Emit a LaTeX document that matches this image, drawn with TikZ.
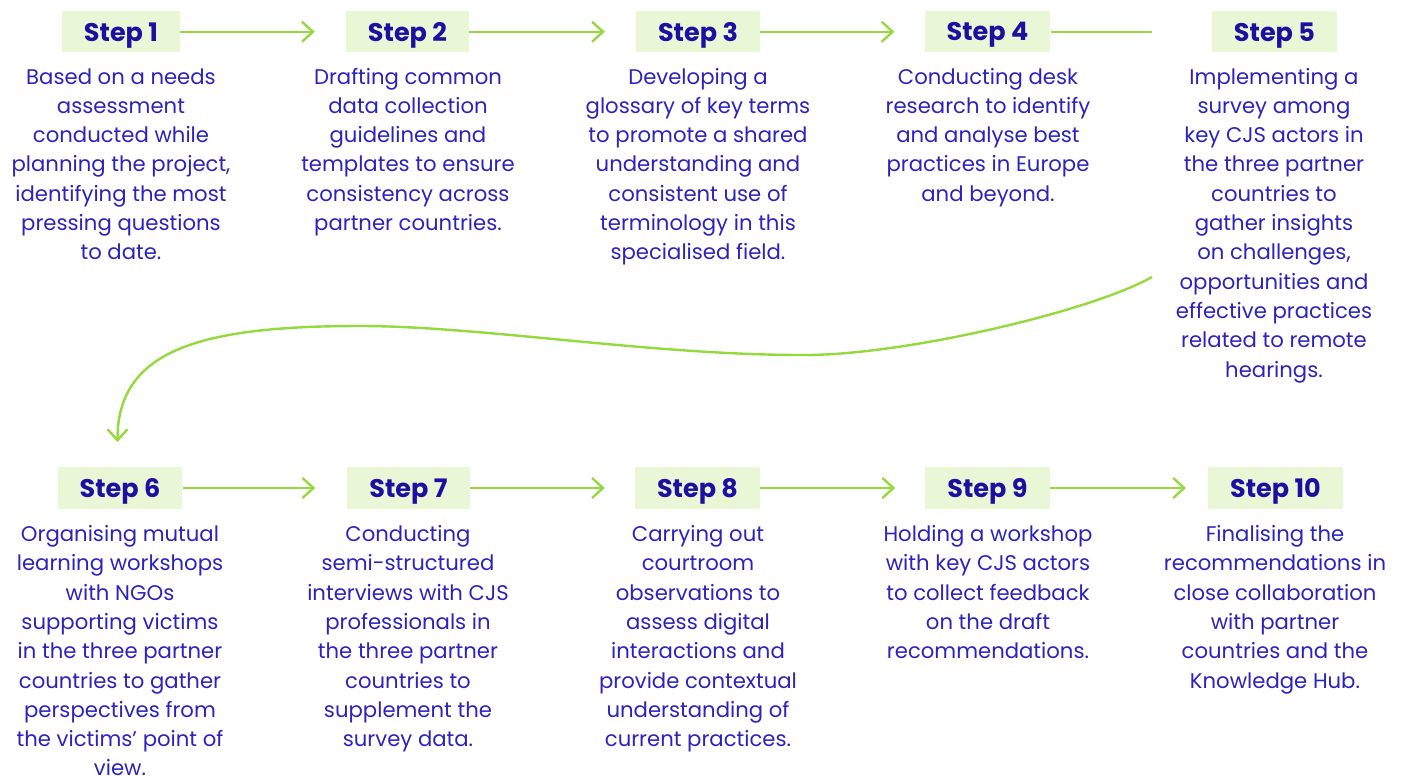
\documentclass[tikz,border=0pt]{standalone}
\usepackage{fontspec}
\setmainfont{Poppins}
\usetikzlibrary{arrows.meta}
\definecolor{txtblue}{HTML}{2E22BE}
\definecolor{lblblue}{HTML}{1E0FA0}
\definecolor{boxgreen}{HTML}{E9F7D6}
\definecolor{linegreen}{HTML}{94D93D}
\tikzset{
  stepbox/.style={fill=boxgreen, draw=none, minimum height=41.5pt, inner xsep=22pt, inner ysep=0pt,
    text depth=0pt, font=\fontsize{25.5pt}{28pt}\selectfont\bfseries, text=lblblue},
  desc/.style={align=center, anchor=base, inner sep=0pt, text=txtblue,
    font=\fontsize{21.2pt}{29.3pt}\selectfont},
  flow/.style={draw=linegreen, line width=2.4pt, -{Straight Barb[length=11pt,width=20pt,line width=2.4pt]}},
  plainflow/.style={draw=linegreen, line width=2.4pt},
}
\begin{document}
\begin{tikzpicture}[x=1pt,y=-1pt]
\useasboundingbox (0,0) rectangle (1406,776);
% row 1 boxes
\node[stepbox] (s1) at (121,31.75) {Step 1};
\node[stepbox] (s2) at (407.5,31.75) {Step 2};
\node[stepbox] (s3) at (698,31.75) {Step 3};
\node[stepbox] (s4) at (987.5,31.75) {Step 4};
\node[stepbox] (s5) at (1274.5,31.75) {Step 5};
% row 2 boxes
\node[stepbox] (s6) at (120,488) {Step 6};
\node[stepbox] (s7) at (408.5,488) {Step 7};
\node[stepbox] (s8) at (697.5,488) {Step 8};
\node[stepbox] (s9) at (987.5,488) {Step 9};
\node[stepbox] (s10) at (1275.5,488) {Step 10};
% descriptions row 1 (anchored at the baseline of the last line)
\node[desc] (d1) at (121,259.8) {Based on a needs\\assessment\\conducted while\\planning the project,\\identifying the most\\pressing questions\\to date.};
\node[desc] (d2) at (408,230.5) {Drafting common\\data collection\\guidelines and\\templates to ensure\\consistency across\\partner countries.};
\node[desc] (d3) at (698,259.8) {Developing a\\glossary of key terms\\to promote a shared\\understanding and\\consistent use of\\terminology in this\\specialised field.};
\node[desc] (d4) at (988,201.2) {Conducting desk\\research to identify\\and analyse best\\practices in Europe\\and beyond.};
\node[desc] (d5) at (1274,377) {Implementing a\\survey among\\key CJS actors in\\the three partner\\countries to\\gather insights\\on challenges,\\opportunities and\\effective practices\\related to remote\\hearings.};
% descriptions row 2
\node[desc] (d6) at (120,775.9) {Organising mutual\\learning workshops\\with NGOs\\supporting victims\\in the three partner\\countries to gather\\perspectives from\\the victims’ point of\\view.};
\node[desc] (d7) at (408,746.6) {Conducting\\semi-structured\\interviews with CJS\\professionals in\\the three partner\\countries to\\supplement the\\survey data.};
\node[desc] (d8) at (698,746.6) {Carrying out\\courtroom\\observations to\\assess digital\\interactions and\\provide contextual\\understanding of\\current practices.};
\node[desc] (d9) at (988,658.7) {Holding a workshop\\with key CJS actors\\to collect feedback\\on the draft\\recommendations.};
\node[desc] (d10) at (1275,688) {Finalising the\\recommendations in\\close collaboration\\with partner\\countries and the\\Knowledge Hub.};
% connectors row 1
\draw[flow, shorten >=31pt] (s1) -- (s2);
\draw[flow, shorten >=31pt] (s2) -- (s3);
\draw[flow, shorten >=30pt] (s3) -- (s4);
\draw[plainflow, shorten >=60pt] (s4) -- (s5);
% connectors row 2
\draw[flow, shorten >=32pt] (s6) -- (s7);
\draw[flow, shorten >=30pt] (s7) -- (s8);
\draw[flow, shorten >=30pt] (s8) -- (s9);
\draw[flow, shorten >=22pt] (s9) -- (s10);
% long curve
\coordinate (c5) at (1152,277);
\coordinate (c6) at (117.5,442);
\draw[flow] (c5) .. controls (1090,312) and (900,356) .. (802,355)
  .. controls (650,355) and (480,326) .. (360,326)
  .. controls (200,326) and (117.5,350) .. (c6);
\end{tikzpicture}
\end{document}
